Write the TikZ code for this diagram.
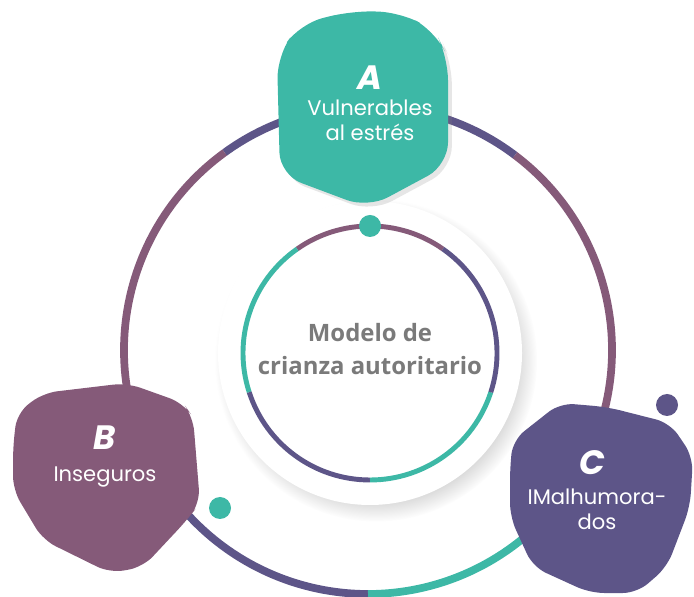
\documentclass[tikz,border=0pt]{standalone}
\usepackage{fontspec}
\setmainfont{Poppins}
\newfontfamily\opensans{Open Sans}
\usetikzlibrary{shadows}
\definecolor{tealc}{HTML}{3DB8A6}
\definecolor{mauve}{HTML}{855A79}
\definecolor{indigo}{HTML}{5D5588}
\definecolor{textgrey}{HTML}{7A7A7A}
\tikzstyle{outerring} = [line width=5.5pt]
\tikzstyle{innerring} = [line width=3.5pt]
\tikzstyle{blob} = [rounded corners=10pt]
\tikzstyle{letter} = [text=white, font=\bfseries\itshape\fontsize{24}{24}\selectfont]
\tikzstyle{blobtext} = [text=white, align=center, font=\fontsize{15}{18}\selectfont]
\tikzstyle{centertext} = [text=textgrey, align=center, font=\opensans\bfseries\fontsize{17}{23}\selectfont]

\begin{document}
\begin{tikzpicture}[x=0.025cm,y=0.025cm]
        \useasboundingbox (0,0) rectangle (694,596);
        \coordinate (o) at (368,246);
        \coordinate (i) at (370,243);
        % white disc with soft shadow
        \fill[white, circular drop shadow={shadow xshift=4pt, shadow yshift=-5pt, shadow scale=1.06, opacity=.35}] (i) circle[radius=152];
        % outer ring
        \foreach \a/\b/\c in {-30/53/mauve, 53/126/indigo, 126/210/mauve, 210/270/indigo, 270/330/tealc}
            \draw[outerring, draw=\c] ([shift={(\a:244)}]o) arc[start angle=\a, end angle=\b, radius=244];
        % inner ring
        \foreach \a/\b/\c in {55/125/mauve, 125/198/tealc, 198/270/indigo, 270/342/tealc, 342/415/indigo}
            \draw[innerring, draw=\c] ([shift={(\a:127)}]i) arc[start angle=\a, end angle=\b, radius=127];
        % dots
        \fill[tealc] ([shift={(90:127)}]i) circle[radius=11];
        \fill[tealc] (220,88) circle[radius=11];
        \fill[indigo] (667,191) circle[radius=11];
        % blobs
        \fill[tealc, rounded corners=16pt, drop shadow={opacity=.2}] (277,540) -- (300,572) -- (350,585) -- (400,584) -- (435,565) -- (448,538) -- (448,431) -- (368,388) -- (280,421) -- cycle;
        \fill[mauve, blob] (17,183) -- (43,203) -- (127,213) -- (183,193) -- (193,179) -- (200,93) -- (187,76) -- (143,29) -- (110,23) -- (43,56) -- (13,106) -- (13,149) -- cycle;
        \fill[indigo, blob] (513,156) -- (560,193) -- (607,189) -- (670,173) -- (693,139) -- (690,89) -- (667,29) -- (637,3) -- (590,3) -- (533,29) -- (510,79) -- (510,129) -- cycle;
        % texts
        \node[letter] (a) at (370,518) {A};
        \node[blobtext] (atext) at (370,476) {Vulnerables\\al estrés};
        \node[letter] (b) at (105,158) {B};
        \node[blobtext] (btext) at (105,119) {Inseguros};
        \node[letter] (c) at (592,133) {C};
        \node[blobtext] (ctext) at (597,87) {IMalhumora-\\dos};
        \node[centertext] (title) at (370,247) {Modelo de\\crianza autoritario};
\end{tikzpicture}
\end{document}
